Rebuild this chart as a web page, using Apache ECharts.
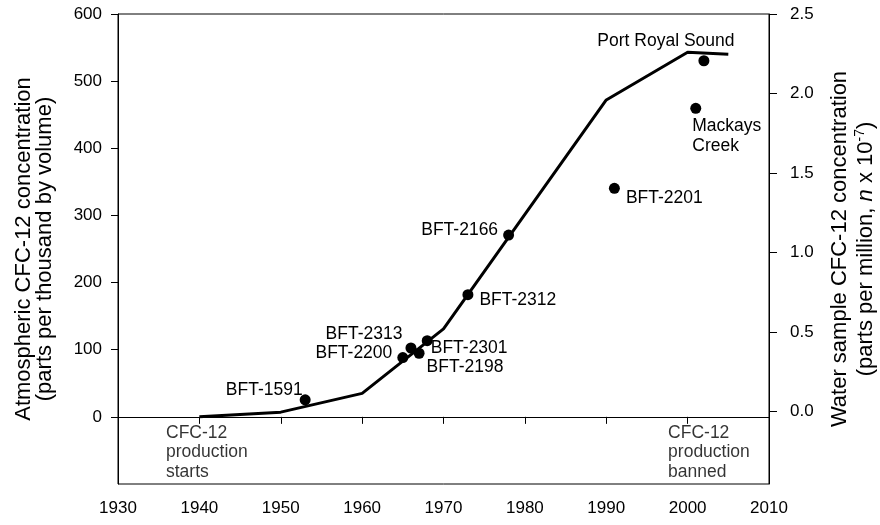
<!DOCTYPE html>
<html>
<head>
<meta charset="utf-8">
<script src="https://cdn.jsdelivr.net/npm/echarts@6/dist/echarts.min.js"></script>
<style>
  html, body { margin: 0; padding: 0; background: #fff; }
  #chart { width: 880px; height: 525px; }
</style>
</head>
<body>
<div id="chart"></div>
<script>
// Atmospheric CFC-12 record (left axis)
const atmYears  = [1940, 1950, 1960, 1970, 1990, 2000, 2005];
const atmValues = [0, 7, 35, 131, 472, 543, 540];

// Water samples (right axis)
const sampleNames  = ['BFT-1591', 'BFT-2200', 'BFT-2313', 'BFT-2198', 'BFT-2301', 'BFT-2312', 'BFT-2166', 'BFT-2201', 'Mackays\nCreek', 'Port Royal Sound'];
const sampleYears  = [1953, 1965, 1966, 1967, 1968, 1973, 1978, 1991, 2001, 2002];
const sampleValues = [0.074, 0.34, 0.40, 0.367, 0.446, 0.735, 1.11, 1.404, 1.907, 2.206];

// Axis ticks
const xTicks     = [1930, 1940, 1950, 1960, 1970, 1980, 1990, 2000, 2010];
const leftTicks  = [0, 100, 200, 300, 400, 500, 600];
const rightTicks = [0, 0.5, 1.0, 1.5, 2.0, 2.5];

// Notes along the bottom of the plot (year, left-axis value)
const noteTexts  = ['CFC-12\nproduction\nstarts', 'CFC-12\nproduction\nbanned'];
const notePoints = [[1935.9, -53], [1997.6, -53]];

// Where each sample label sits relative to its dot
const labelPlacement = {
  'BFT-1591': { position: 'left', offset: [8, -10] },
  'BFT-2200': { position: 'left', offset: [0, -4] },
  'BFT-2313': { position: 'left', offset: [2, -14] },
  'BFT-2198': { position: 'right', offset: [-3, 14] },
  'BFT-2301': { position: 'right', offset: [-7, 7] },
  'BFT-2312': { position: 'right', offset: [1, 5] },
  'BFT-2166': { position: 'left', offset: [0, -5] },
  'BFT-2201': { position: 'right', offset: [1, 10] },
  'Mackays\nCreek': { position: 'right', offset: [-14, 28] },
  'Port Royal Sound': { position: 'top', offset: [-38, 1] }
};

const FONT = 'Liberation Sans, Arial, sans-serif';
const INK = '#000';

const chart = echarts.init(document.getElementById('chart'), null, { renderer: 'canvas' });

const sampleData = sampleNames.map((name, i) => ({
  name: name,
  value: [sampleYears[i], sampleValues[i]],
  label: Object.assign({ show: true, formatter: name }, labelPlacement[name])
}));

const option = {
  backgroundColor: '#fff',
  animation: false,
  grid: {
    left: 118, right: 111, top: 14, bottom: 41,
    containLabel: false,
    outerBoundsMode: 'none',
    show: true, borderColor: INK, borderWidth: 1, backgroundColor: 'transparent'
  },
  xAxis: {
    type: 'value',
    min: 1930, max: 2010, interval: 10,
    axisLine: { show: true, lineStyle: { color: INK, width: 1 } },
    axisTick: { show: true, length: 7, inside: false, lineStyle: { color: INK }, customValues: xTicks },
    axisLabel: { color: INK, fontSize: 17, fontFamily: FONT, margin: 16, customValues: xTicks, formatter: v => String(v) },
    splitLine: { show: false }
  },
  yAxis: [
    {
      type: 'value',
      min: -100, max: 600, interval: 100,
      position: 'left',
      axisLine: { show: true, lineStyle: { color: INK, width: 1 } },
      axisTick: { show: true, length: 7, lineStyle: { color: INK }, customValues: leftTicks },
      axisLabel: { color: INK, fontSize: 17, fontFamily: FONT, margin: 16, customValues: leftTicks, formatter: v => String(v) },
      splitLine: { show: false },
      name: 'Atmospheric CFC-12 concentration\n(parts per thousand by volume)',
      nameLocation: 'middle',
      nameRotate: 90,
      nameGap: 63,
      nameTextStyle: { color: INK, fontSize: 22, fontFamily: FONT, lineHeight: 21, align: 'center' }
    },
    {
      type: 'value',
      min: -0.455, max: 2.5,
      position: 'right',
      axisLine: { show: true, lineStyle: { color: INK, width: 1 } },
      axisTick: { show: true, length: 8, lineStyle: { color: INK }, customValues: rightTicks },
      axisLabel: {
        color: INK, fontSize: 17, fontFamily: FONT, margin: 21, customValues: rightTicks,
        formatter: v => v.toFixed(1)
      },
      splitLine: { show: false },
      name: '{a|Water sample CFC-12 concentration}\n{a|(parts per million, }{i|n}{a| x 10}{sup|-7}{a|)}',
      nameLocation: 'middle',
      nameRotate: 90,
      nameGap: 58,
      nameTextStyle: {
        color: INK, fontSize: 22, fontFamily: FONT, align: 'center',
        rich: {
          a: { fontSize: 22, fontFamily: FONT, color: INK, lineHeight: 26 },
          i: { fontSize: 22, fontFamily: FONT, color: INK, fontStyle: 'italic', lineHeight: 26 },
          sup: { fontSize: 14, fontFamily: FONT, color: INK, verticalAlign: 'top', lineHeight: 26 }
        }
      }
    }
  ],
  series: [
    {
      name: 'Atmosphere',
      type: 'line',
      yAxisIndex: 0,
      data: atmYears.map((y, i) => [y, atmValues[i]]),
      showSymbol: false,
      symbol: 'none',
      lineStyle: { color: INK, width: 3 },
      z: 2
    },
    {
      name: 'Samples',
      type: 'scatter',
      yAxisIndex: 1,
      data: sampleData,
      symbol: 'circle',
      symbolSize: 11,
      itemStyle: { color: INK, opacity: 1 },
      label: { color: INK, fontSize: 17.5, fontFamily: FONT, lineHeight: 20.5, distance: 5 },
      z: 3
    },
    {
      name: 'Notes',
      type: 'scatter',
      yAxisIndex: 0,
      symbolSize: 0,
      data: notePoints.map((p, i) => ({
        value: p,
        label: { show: true, formatter: noteTexts[i] }
      })),
      label: { position: 'right', distance: 0, align: 'left', color: INK, fontSize: 17.5, fontFamily: FONT, lineHeight: 19.5 },
      silent: true
    }
  ]
};

chart.setOption(option);
</script>
</body>
</html>
